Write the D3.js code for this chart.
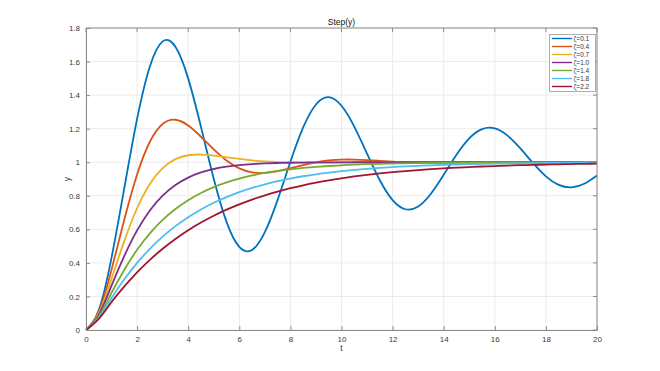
<!DOCTYPE html>
<html><head><meta charset="utf-8">
<script src="https://cdn.jsdelivr.net/npm/d3@7"></script>
<style>body{margin:0;background:#fff}svg{display:block;font-family:"Liberation Sans",Arial,sans-serif}</style>
</head><body><svg id="c" width="660" height="371"></svg>
<script>
const time = [0,0.5,1,1.5,2,2.5,3,3.5,4,4.5,5,5.5,6,6.5,7,7.5,8,8.5,9,9.5,10,10.5,11,11.5,12,12.5,13,13.5,14,14.5,15,15.5,16,16.5,17,17.5,18,18.5,19,19.5,20];
const zetaLabels = ["ζ=0.1","ζ=0.4","ζ=0.7","ζ=1.0","ζ=1.4","ζ=1.8","ζ=2.2"];
const y01 = [0,0.1185,0.4310,0.8464,1.2581,1.5704,1.7201,1.6878,1.4983,1.2108,0.9015,0.6445,0.4949,0.4772,0.5830,0.7758,1.0026,1.2072,1.3440,1.3877,1.3364,1.2124,1.0509,0.8925,0.7742,0.7197,0.7359,0.8122,0.9250,1.0445,1.1423,1.1976,1.2017,1.1583,1.0822,0.9942,0.9159,0.8647,0.8498,0.8714,0.9209];
const y04 = [0,0.1077,0.3599,0.6582,0.9271,1.1221,1.2281,1.2532,1.2189,1.1518,1.0761,1.0100,0.9637,0.9400,0.9362,0.9465,0.9643,0.9833,0.9995,1.0104,1.0156,1.0160,1.0130,1.0084,1.0036,0.9996,0.9971,0.9959,0.9960,0.9969,0.9981,0.9993,1.0002,1.0008,1.0010,1.0010,1.0008,1.0004,1.0001,0.9999,0.9998];
const y07 = [0,0.0983,0.3059,0.5312,0.7257,0.8706,0.9653,1.0185,1.0416,1.0458,1.0398,1.0298,1.0196,1.0111,1.0049,1.0010,0.9988,0.9980,0.9979,0.9983,0.9987,0.9992,0.9996,0.9998,1.0000,1.0001,1.0001,1.0001,1.0001,1.0000,1.0000,1.0000,1.0000,1.0000,1.0000,1.0000,1.0000,1.0000,1.0000,1.0000,1.0000];
const y10 = [0,0.0902,0.2642,0.4422,0.5940,0.7127,0.8009,0.8643,0.9084,0.9389,0.9596,0.9734,0.9826,0.9887,0.9927,0.9953,0.9970,0.9981,0.9988,0.9992,0.9995,0.9997,0.9998,0.9999,0.9999,1.0000,1.0000,1.0000,1.0000,1.0000,1.0000,1.0000,1.0000,1.0000,1.0000,1.0000,1.0000,1.0000,1.0000,1.0000,1.0000];
const y14 = [0,0.0809,0.2221,0.3594,0.4778,0.5758,0.6559,0.7210,0.7739,0.8167,0.8514,0.8796,0.9024,0.9209,0.9359,0.9480,0.9579,0.9659,0.9723,0.9776,0.9818,0.9853,0.9881,0.9903,0.9922,0.9936,0.9948,0.9958,0.9966,0.9973,0.9978,0.9982,0.9985,0.9988,0.9990,0.9992,0.9994,0.9995,0.9996,0.9997,0.9997];
const y18 = [0,0.0731,0.1906,0.3020,0.3997,0.4841,0.5567,0.6191,0.6727,0.7187,0.7583,0.7923,0.8216,0.8467,0.8682,0.8868,0.9027,0.9164,0.9282,0.9383,0.9470,0.9544,0.9608,0.9664,0.9711,0.9752,0.9787,0.9817,0.9842,0.9865,0.9884,0.9900,0.9914,0.9926,0.9937,0.9945,0.9953,0.9960,0.9965,0.9970,0.9974];
const y22 = [0,0.0665,0.1664,0.2601,0.3438,0.4181,0.4840,0.5425,0.5943,0.6402,0.6810,0.7171,0.7492,0.7776,0.8028,0.8251,0.8449,0.8625,0.8780,0.8919,0.9041,0.9150,0.9246,0.9331,0.9407,0.9474,0.9534,0.9587,0.9633,0.9675,0.9712,0.9744,0.9773,0.9799,0.9822,0.9842,0.9860,0.9876,0.9890,0.9902,0.9913];
const xTicks = [0,2,4,6,8,10,12,14,16,18,20];
const yTicks = [0,0.2,0.4,0.6,0.8,1,1.2,1.4,1.6,1.8];
const colors = ["#0072BD","#D95319","#EDB120","#7E2F8E","#77AC30","#4DBEEE","#A2142F"];
const seriesList = [y01,y04,y07,y10,y14,y18,y22];

const svg = d3.select("#c");
const L=86, R=597, T=28, B=330;
const x = d3.scaleLinear().domain([0,20]).range([L,R]);
const y = d3.scaleLinear().domain([0,1.8]).range([B,T]);

// grid
const g = svg.append("g");
g.selectAll(".gx").data(xTicks).join("line").attr("x1",d=>x(d)).attr("x2",d=>x(d)).attr("y1",T).attr("y2",B).attr("stroke","#e6e6e6").attr("stroke-width",0.8);
g.selectAll(".gy").data(yTicks).join("line").attr("y1",d=>y(d)).attr("y2",d=>y(d)).attr("x1",L).attr("x2",R).attr("stroke","#e6e6e6").attr("stroke-width",0.8);

// curves
const line = d3.line().x((d,i)=>x(time[i])).y(d=>y(d)).curve(d3.curveNatural);
svg.append("g").selectAll("path").data(seriesList).join("path")
  .attr("d",line).attr("fill","none").attr("stroke",(d,i)=>colors[i]).attr("stroke-width",1.8).attr("stroke-linejoin","round");

// axes
const axCol="#8a8a8a", txtCol="#3a3a3a";
const xAxis = svg.append("g").attr("transform",`translate(0,${B})`).call(d3.axisBottom(x).tickValues(xTicks).tickSizeInner(-4).tickSizeOuter(0).tickPadding(6).tickFormat(d3.format("d")));
const yAxis = svg.append("g").attr("transform",`translate(${L},0)`).call(d3.axisLeft(y).tickValues(yTicks).tickSizeInner(-4).tickSizeOuter(0).tickPadding(6).tickFormat(d=>String(+d.toFixed(1))));
[xAxis,yAxis].forEach(a=>{a.select(".domain").attr("stroke",axCol);a.selectAll(".tick line").attr("stroke",axCol);a.selectAll("text").attr("fill",txtCol).attr("font-size",8).attr("font-family","Liberation Sans, Arial, sans-serif");});
// top / right box
svg.append("line").attr("x1",L).attr("x2",R).attr("y1",T).attr("y2",T).attr("stroke",axCol);
svg.append("line").attr("x1",R).attr("x2",R).attr("y1",T).attr("y2",B).attr("stroke",axCol);
svg.selectAll(".tt").data(xTicks).join("line").attr("x1",d=>x(d)).attr("x2",d=>x(d)).attr("y1",T).attr("y2",T+4).attr("stroke",axCol);
svg.selectAll(".tr").data(yTicks).join("line").attr("y1",d=>y(d)).attr("y2",d=>y(d)).attr("x1",R).attr("x2",R-4).attr("stroke",axCol);

// labels
svg.append("text").attr("x",(L+R)/2).attr("y",25).attr("text-anchor","middle").attr("font-size",8.5).attr("fill","#111").text("Step(y)");
svg.append("text").attr("x",(L+R)/2).attr("y",351).attr("text-anchor","middle").attr("font-size",8.5).attr("fill",txtCol).text("t");
svg.append("text").attr("transform",`translate(70,${(T+B)/2}) rotate(-90)`).attr("text-anchor","middle").attr("font-size",8.5).attr("fill",txtCol).text("y");

// legend
const lg = svg.append("g");
lg.append("rect").attr("x",549.5).attr("y",34.5).attr("width",46).attr("height",57).attr("fill","#fff").attr("stroke","#9a9a9a").attr("stroke-width",0.8);
zetaLabels.forEach((s,i)=>{
  const yy = 38.5 + i*8;
  lg.append("line").attr("x1",552).attr("x2",572).attr("y1",yy).attr("y2",yy).attr("stroke",colors[i]).attr("stroke-width",1.4);
  lg.append("text").attr("x",573.5).attr("y",yy+2.5).attr("font-size",6.5).attr("fill","#333").text(s);
});
</script></body></html>
